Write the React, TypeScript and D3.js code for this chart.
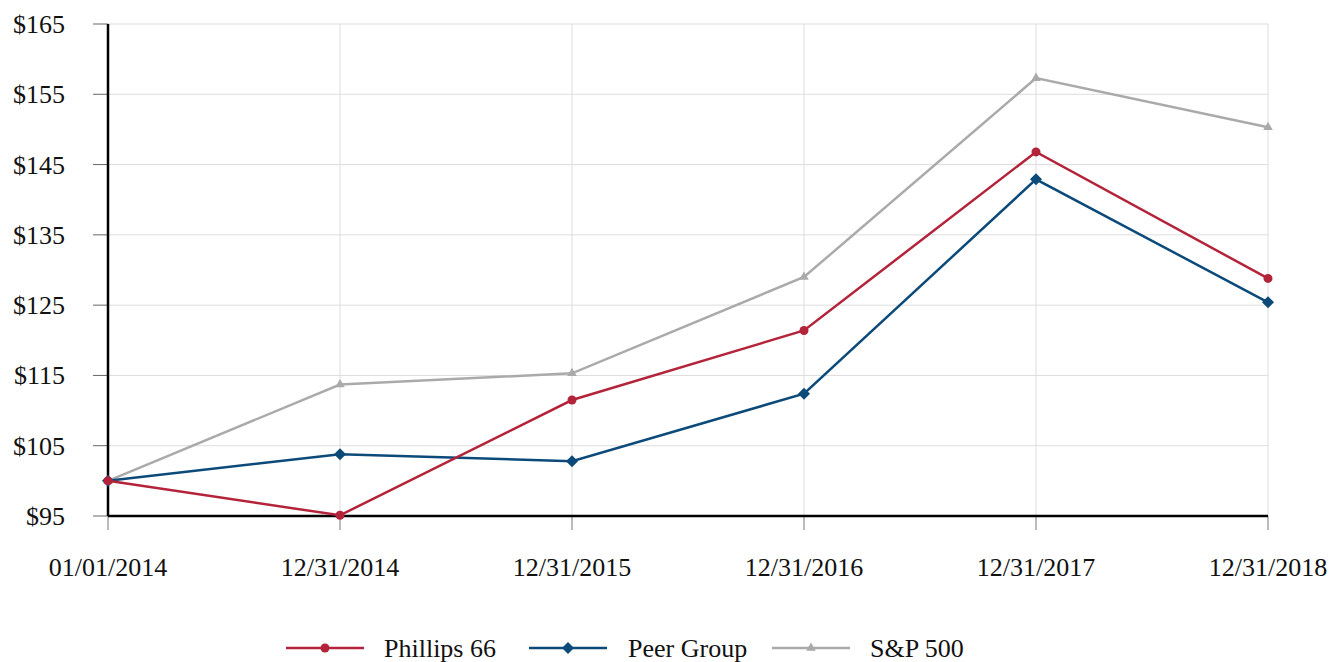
import React from "react";
import * as d3 from "d3";

const categories = ["01/01/2014", "12/31/2014", "12/31/2015", "12/31/2016", "12/31/2017", "12/31/2018"];
const phillips = [100, 95.1, 111.5, 121.4, 146.8, 128.8];
const peer = [100, 103.8, 102.8, 112.4, 142.9, 125.4];
const sp500 = [100, 113.7, 115.3, 129.0, 157.3, 150.3];
const yTicks = [95, 105, 115, 125, 135, 145, 155, 165];

const W = 1335, H = 662;
const left = 108, right = 1268, top = 24, bottom = 516;
const FONT = "'Liberation Serif', 'Times New Roman', serif";

const series = [
  { name: "Phillips 66", values: phillips, color: "#b3243a", marker: "circle" },
  { name: "Peer Group", values: peer, color: "#0c4a7a", marker: "diamond" },
  { name: "S&P 500", values: sp500, color: "#aaaaaa", marker: "triangle" },
];

function Marker({ type, x, y, color }: { type: string; x: number; y: number; color: string }) {
  if (type === "circle") return <circle cx={x} cy={y} r={4.5} fill={color} />;
  if (type === "diamond")
    return <path d="M0,-6L6,0L0,6L-6,0Z" transform={`translate(${x},${y})`} fill={color} />;
  return <path d={d3.symbol(d3.symbolTriangle, 40)()!} transform={`translate(${x},${y})`} fill={color} />;
}

export default function App() {
  const x = d3.scalePoint<string>().domain(categories).range([left, right]);
  const y = d3.scaleLinear().domain([95, 165]).range([bottom, top]);
  const line = d3.line<number>().x((_, i) => x(categories[i])!).y((d) => y(d));

  const legendItems = [
    { lx: 286, tx: 384 },
    { lx: 529, tx: 628 },
    { lx: 772, tx: 870 },
  ];
  const ly = 648;

  return (
    <svg width={W} height={H} style={{ position: "absolute", left: 0, top: 0, background: "#fff" }} fontFamily={FONT}>
      {yTicks.map((t) => (
        <g key={t}>
          <line x1={left} x2={right} y1={y(t)} y2={y(t)} stroke="#dddddd" strokeWidth={1} />
          <line x1={93} x2={left} y1={y(t)} y2={y(t)} stroke="#666" strokeWidth={1} />
          <text x={65} y={y(t) + 9} fontSize={26} textAnchor="end" fill="#111">${t}</text>
        </g>
      ))}
      {categories.map((c) => (
        <g key={c}>
          <line x1={x(c)} x2={x(c)} y1={top} y2={bottom} stroke="#dddddd" strokeWidth={1} />
          <line x1={x(c)} x2={x(c)} y1={bottom} y2={530} stroke="#777" strokeWidth={1} />
          <text x={x(c)} y={576} fontSize={26} textAnchor="middle" fill="#111">{c}</text>
        </g>
      ))}
      <line x1={left} x2={left} y1={top} y2={bottom} stroke="#000" strokeWidth={2.5} />
      <line x1={left} x2={right} y1={bottom} y2={bottom} stroke="#000" strokeWidth={2.5} />
      {[...series].reverse().map((s) => (
        <g key={s.name}>
          <path d={line(s.values)!} fill="none" stroke={s.color} strokeWidth={2.5} />
          {s.values.map((v, i) => (
            <Marker key={i} type={s.marker} x={x(categories[i])!} y={y(v)} color={s.color} />
          ))}
        </g>
      ))}
      {series.map((s, i) => (
        <g key={s.name}>
          <line x1={legendItems[i].lx} x2={legendItems[i].lx + 78} y1={ly} y2={ly} stroke={s.color} strokeWidth={2.5} />
          <Marker type={s.marker} x={legendItems[i].lx + 39} y={ly} color={s.color} />
          <text x={legendItems[i].tx} y={ly + 9} fontSize={26} fill="#111">{s.name}</text>
        </g>
      ))}
    </svg>
  );
}
